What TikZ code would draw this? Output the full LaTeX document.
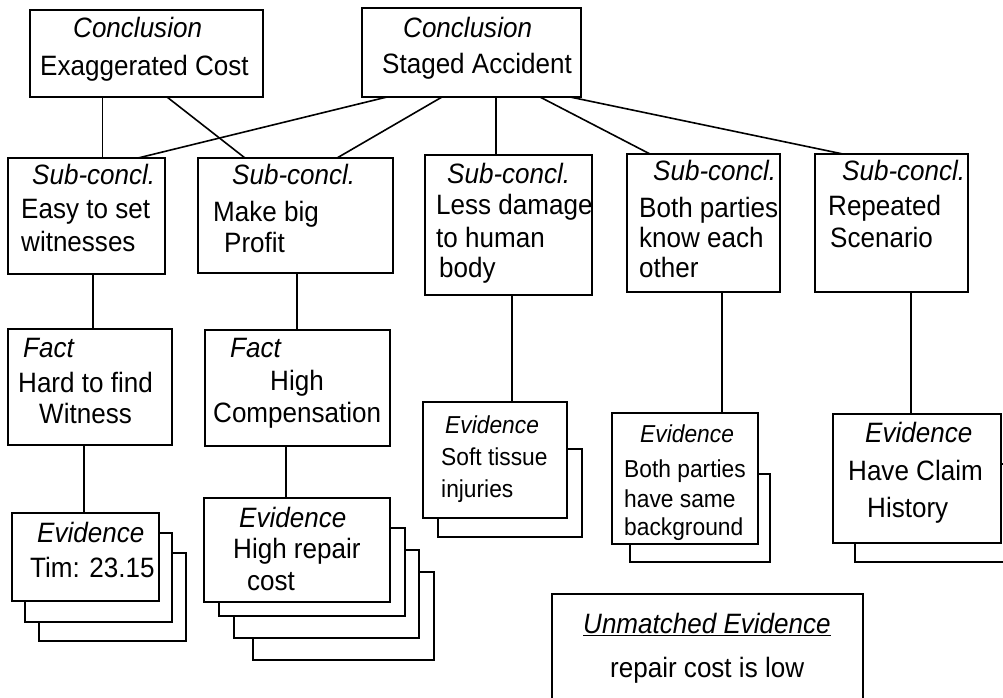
\documentclass[tikz,border=0pt]{standalone}
\usepackage{fontspec}
\setmainfont{Liberation Sans}[FakeStretch=0.93]
\begin{document}
\newcommand\bigtxt{\fontsize{28}{32}\selectfont}
\newcommand\smltxt{\fontsize{24.5}{28}\selectfont}
\begin{tikzpicture}[x=1pt,y=-1pt,
  box/.style={draw,line width=1.7pt,fill=white,inner sep=0pt,outer sep=0pt,anchor=north west},
  link/.style={line width=1.6pt},
  thin link/.style={line width=1pt},
  txt/.style={anchor=base west,inner sep=0pt,font=\bigtxt},
  stxt/.style={anchor=base west,inner sep=0pt,font=\smltxt}]
\useasboundingbox (0,0) rectangle (1003,697);

% conclusions
\node[box,minimum width=233pt,minimum height=87pt] (ec) at (30,10) {};
\node[box,minimum width=219pt,minimum height=89pt] (sa) at (362,8) {};

% sub-conclusions
\node[box,minimum width=157pt,minimum height=116pt] (s1) at (8,158) {};
\node[box,minimum width=195pt,minimum height=115pt] (s2) at (198,158) {};
\node[box,minimum width=167pt,minimum height=140pt] (s3) at (425,155) {};
\node[box,minimum width=153pt,minimum height=138pt] (s4) at (627,154) {};
\node[box,minimum width=153pt,minimum height=138pt] (s5) at (815,154) {};

% facts
\node[box,minimum width=164pt,minimum height=116pt] (f1) at (8,329) {};
\node[box,minimum width=185pt,minimum height=116pt] (f2) at (205,330) {};

% evidence stacks (back copies first)
\node[box,minimum width=147pt,minimum height=88pt] (e1c) at (39,553) {};
\node[box,minimum width=147pt,minimum height=89pt] (e1b) at (25,533) {};
\node[box,minimum width=147pt,minimum height=88pt] (e1) at (12,513) {};

\node[box,minimum width=181pt,minimum height=88pt] (e2d) at (253,572) {};
\node[box,minimum width=185pt,minimum height=88pt] (e2c) at (234,550) {};
\node[box,minimum width=186pt,minimum height=88pt] (e2b) at (219,528) {};
\node[box,minimum width=186pt,minimum height=104pt] (e2) at (204,498) {};

\node[box,minimum width=144pt,minimum height=88pt] (e3b) at (438,449) {};
\node[box,minimum width=144pt,minimum height=116pt] (e3) at (423,402) {};

\node[box,minimum width=140pt,minimum height=88pt] (e4b) at (630,474) {};
\node[box,minimum width=146pt,minimum height=131pt] (e4) at (612,413) {};

\node[box,minimum width=160pt,minimum height=98pt] (e5b) at (855,464) {};
\node[box,minimum width=168pt,minimum height=129pt] (e5) at (833,414) {};

% unmatched evidence
\node[box,minimum width=311pt,minimum height=118pt] (um) at (552,594) {};

% connectors
\draw[thin link] ([xshift=72pt]ec.south west) -- ([xshift=94pt]s1.north west);
\draw[link] ([xshift=137pt]ec.south west) -- ([xshift=47pt]s2.north west);
\draw[link] ([xshift=25pt]sa.south west) -- ([xshift=130pt]s1.north west);
\draw[link] ([xshift=80pt]sa.south west) -- ([xshift=139pt]s2.north west);
\draw[link] ([xshift=134pt]sa.south west) -- ([xshift=71pt]s3.north west);
\draw[link] ([xshift=178pt]sa.south west) -- ([xshift=23pt]s4.north west);
\draw[link] ([xshift=208pt]sa.south west) -- ([xshift=28pt]s5.north west);
\draw[link] ([xshift=85pt]s1.south west) -- ([xshift=85pt]f1.north west);
\draw[link] ([xshift=99pt]s2.south west) -- ([xshift=92pt]f2.north west);
\draw[link] ([xshift=87pt]s3.south west) -- ([xshift=89pt]e3.north west);
\draw[link] ([xshift=95pt]s4.south west) -- ([xshift=110pt]e4.north west);
\draw[link] ([xshift=96pt]s5.south west) -- ([xshift=78pt]e5.north west);
\draw[link] ([xshift=76pt]f1.south west) -- ([xshift=72pt]e1.north west);
\draw[link] ([xshift=81pt]f2.south west) -- ([xshift=82pt]e2.north west);

% texts
\node[txt] (ec1) at (73,37) {\itshape Conclusion};
\node[txt] (ec2) at (40,75) {Exaggerated Cost};
\node[txt] (sa1) at (403,37) {\itshape Conclusion};
\node[txt] (sa2) at (382,73) {Staged Accident};

\node[txt] (s1a) at (32,184) {\itshape Sub-concl.};
\node[txt] (s1b) at (21,218) {Easy to set};
\node[txt] (s1c) at (21,251) {witnesses};

\node[txt] (s2a) at (232,184) {\itshape Sub-concl.};
\node[txt] (s2b) at (213,221) {Make big};
\node[txt] (s2c) at (224,252) {Profit};

\node[txt] (s3a) at (447,183) {\itshape Sub-concl.};
\node[txt] (s3b) at (436,214) {Less damage};
\node[txt] (s3c) at (436,247) {to human};
\node[txt] (s3d) at (439,277) {body};

\node[txt] (s4a) at (653,180) {\itshape Sub-concl.};
\node[txt] (s4b) at (639,217) {Both parties};
\node[txt] (s4c) at (639,247) {know each};
\node[txt] (s4d) at (639,277) {other};

\node[txt] (s5a) at (842,180) {\itshape Sub-concl.};
\node[txt] (s5b) at (828,215) {Repeated};
\node[txt] (s5c) at (830,247) {Scenario};

\node[txt] (f1a) at (23,357) {\itshape Fact};
\node[txt] (f1b) at (18,392) {Hard to find};
\node[txt] (f1c) at (39,423) {Witness};

\node[txt] (f2a) at (230,357) {\itshape Fact};
\node[txt] (f2b) at (270,390) {High};
\node[txt] (f2c) at (213,422) {Compensation};

\node[txt] (e1a) at (37,542) {\itshape Evidence};
\node[txt] (e1t) at (30,577) {Tim: 23.15};

\node[txt] (e2a) at (239,527) {\itshape Evidence};
\node[txt] (e2t) at (233,558) {High repair};
\node[txt] (e2u) at (247,590) {cost};

\node[stxt] (e3a) at (445,433) {\itshape Evidence};
\node[stxt] (e3t) at (441,465) {Soft tissue};
\node[stxt] (e3u) at (441,497) {injuries};

\node[stxt] (e4a) at (640,442) {\itshape Evidence};
\node[stxt] (e4t) at (624,477) {Both parties};
\node[stxt] (e4u) at (624,507) {have same};
\node[stxt] (e4v) at (624,535) {background};

\node[txt] (e5a) at (865,442) {\itshape Evidence};
\node[txt] (e5t) at (848,480) {Have Claim};
\node[txt] (e5u) at (867,517) {History};

\node[txt] (um1) at (583,633) {\itshape\underline{Unmatched Evidence}};
\node[txt] (um2) at (610,677) {repair cost is low};
\end{tikzpicture}
\end{document}
